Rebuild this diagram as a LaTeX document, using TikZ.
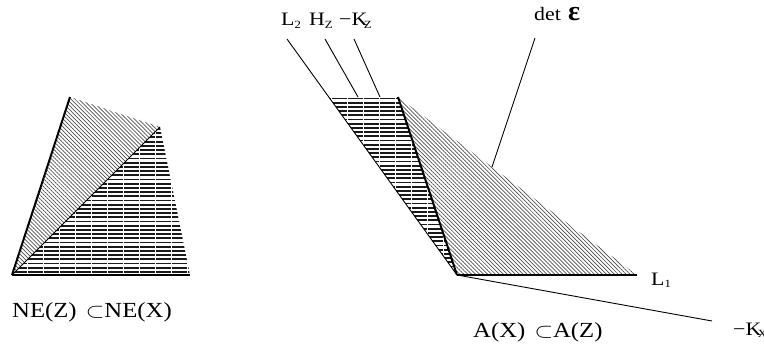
\documentclass[tikz,border=0pt]{standalone}
\usepackage{fontspec}
\setmainfont{Liberation Serif}
\usetikzlibrary{patterns.meta}
\newcommand\wtxt[1]{\scalebox{1.15}[1]{#1}}
\newcommand\lsub[1]{\raisebox{-2.5pt}{\fontsize{11}{11}\selectfont #1}}
\begin{document}
\begin{tikzpicture}[x=1pt,y=-1pt,
  lbl/.style={inner sep=0pt,anchor=base west,font=\fontsize{19}{22}\selectfont},
  biglbl/.style={inner sep=0pt,anchor=base west,font=\fontsize{21.5}{24}\selectfont},
  thin/.style={line width=0.9pt},
  thick/.style={line width=2pt},
  diaghatch/.style={pattern={Lines[angle=-45,distance=2.8pt,line width=0.7pt]},pattern color=black!70},
  hline/.style={line width=1.8pt,black!90,dash pattern=on 14.5pt off 1.5pt}]
\useasboundingbox (0,0) rectangle (764,345);
% ---------- left figure ----------
\coordinate (la) at (12,275);
\coordinate (lt) at (70,97);
\coordinate (lr) at (160,127);
\coordinate (lb) at (190,275);
\path[diaghatch] (la) -- (lt) -- (lr) -- cycle;
\begin{scope}
  \clip (la) -- (lr) -- (lb) -- cycle;
  \foreach \yy in {129,133.2,...,275} \draw[hline] (-4,\yy) -- (200,\yy);
\end{scope}
\draw[thin] (la) -- (lr);
\draw[thick] (la) -- (lt);
\draw[thick] (la) -- (lb);
\node[biglbl] (nez) at (12,317) {\wtxt{NE(Z)\hspace{8pt}$\subset$NE(X)}};
% ---------- right figure ----------
\coordinate (ap) at (457,275);
\coordinate (tl) at (329,97);
\coordinate (tr) at (398,97);
\coordinate (br) at (637,275);
\path[diaghatch] (tr) -- (br) -- (ap) -- cycle;
\begin{scope}
  \clip (tl) -- (tr) -- (ap) -- cycle;
  \foreach \yy in {98.5,102.7,...,275} \draw[hline] (300,\yy) -- (470,\yy);
\end{scope}
\coordinate (l2e) at (287,39);
\coordinate (hze) at (325,39);
\coordinate (hzs) at (358,97);
\coordinate (kze) at (354,39);
\coordinate (kzs) at (380,97);
\coordinate (dete) at (535,38);
\coordinate (dets) at (492,167);
\coordinate (kxe) at (712,321);
\draw[thin] (l2e) -- (ap);
\draw[thin] (hze) -- (hzs);
\draw[thin] (kze) -- (kzs);
\draw[thin] (dete) -- (dets);
\draw[thin] (ap) -- (kxe);
\draw[thick] (tr) -- (ap);
\draw[thick] (ap) -- (br);
\node[lbl] (l2) at (281,26) {\wtxt{L\lsub{2}}};
\node[lbl] (hz) at (309,26) {\wtxt{H\lsub{Z}}};
\node[lbl] (kz) at (339,26) {\wtxt{−K\kern-3pt\lsub{Z}}};
\node[lbl] (det) at (534,21) {\wtxt{det}};
\node[lbl,font=\fontsize{28}{28}\selectfont\bfseries] (eps) at (568,21) {ε};
\node[lbl] (l1) at (651,285) {\wtxt{L\lsub{1}}};
\node[lbl] (kx) at (733,335) {\wtxt{−K\kern-3pt\lsub{X}}};
\node[biglbl] (ax) at (473,337) {\wtxt{A(X)\hspace{8pt}$\subset$A(Z)}};
\end{tikzpicture}
\end{document}
